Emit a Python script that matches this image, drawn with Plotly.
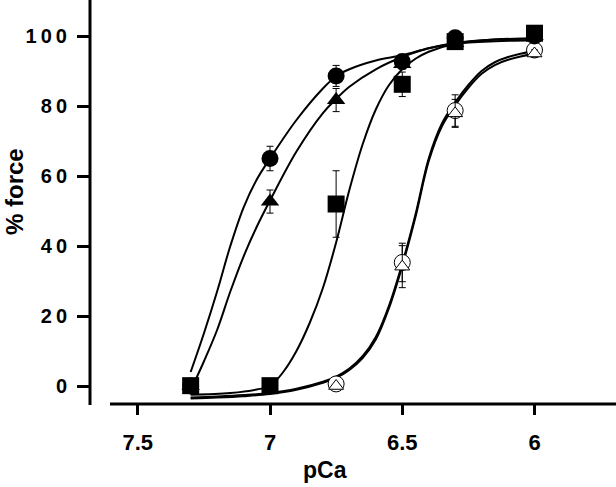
import plotly.graph_objects as go

# ---- data ----
pca_filled = [7.3, 7.0, 6.75, 6.5, 6.3, 6.0]
circle_y = [0, 65, 88.6, 92.7, 99.5, 100]
circle_err = [None, 3.5, 3.0, 1.5, 1.0, None]
triangle_y = [0, 52.7, 81.7, 92, 98, 100]
triangle_err = [None, 3.3, 3.3, 1.5, 1.0, None]
square_y = [0.1, 0.1, 52, 86.2, 98.4, 100.8]
square_err = [None, None, 9.5, 3.5, 1.0, 2.0]

pca_open = [6.75, 6.5, 6.3, 6.0]
ocircle_y = [0.6, 35.3, 78.7, 96]
ocircle_err = [None, 5.5, 4.5, 1.0]
otriangle_y = [0, 34.1, 77.9, 95]
otriangle_err = [None, 6.0, 4.0, 1.0]

# fitted curves
circ_fit_x = [7.3, 7.25, 7.2, 7.15, 7.1, 7.05, 7.0, 6.9, 6.8, 6.75, 6.7, 6.6, 6.5, 6.4, 6.3, 6.15, 6.0]
circ_fit_y = [4, 15, 27, 40, 51, 59, 65, 76, 85, 88.5, 90.5, 93, 94.5, 96.5, 98, 99, 99.3]
tri_fit_x = [7.28, 7.25, 7.2, 7.15, 7.1, 7.05, 7.0, 6.9, 6.8, 6.75, 6.7, 6.6, 6.5, 6.4, 6.3, 6.15, 6.0]
tri_fit_y = [2, 7, 16, 27, 37, 45.5, 53, 67, 78, 82, 85.5, 90.5, 94, 96.5, 97.8, 98.5, 98.8]
sq_fit_x = [7.3, 7.15, 7.05, 7.0, 6.95, 6.9, 6.85, 6.8, 6.75, 6.7, 6.65, 6.6, 6.55, 6.5, 6.45, 6.4, 6.3, 6.15, 6.0]
sq_fit_y = [-2.5, -2, -1, 0, 4, 10, 18, 28, 41, 56, 69, 79, 86, 90.5, 93.5, 95.5, 97.8, 99, 99.3]
oc_fit_x = [7.3, 7.2, 7.1, 7.0, 6.9, 6.8, 6.75, 6.7, 6.65, 6.6, 6.55, 6.5, 6.45, 6.4, 6.35, 6.3, 6.25, 6.2, 6.15, 6.1, 6.0]
oc_fit_y = [-3.3, -3, -2.6, -2, -0.8, 1.2, 2.7, 5, 8.5, 14, 23, 35, 49, 65, 75, 81, 86, 90, 92.5, 94, 95.8]
ot_fit_y = [-3.6, -3.3, -2.9, -2.3, -1.1, 0.9, 2.3, 4.6, 8, 13.3, 22.3, 34.3, 48.3, 64.2, 74.2, 80.2, 85.2, 89.2, 91.7, 93.2, 95.0]

x_tickvals = [7.5, 7.0, 6.5, 6.0]
x_ticktext = ["7.5", "7", "6.5", "6"]
y_tickvals = [0, 20, 40, 60, 80, 100]
y_ticktext = ["0", "2\u20090", "4\u20090", "6\u20090", "8\u20090", "1\u20090\u20090"]

FONT = "Liberation Sans, Arial, Helvetica, sans-serif"

fig = go.Figure()

for fx, fy in [(circ_fit_x, circ_fit_y), (tri_fit_x, tri_fit_y), (sq_fit_x, sq_fit_y),
               (oc_fit_x, oc_fit_y), (oc_fit_x, ot_fit_y)]:
    fig.add_trace(go.Scatter(x=fx, y=fy, mode="lines", line=dict(color="black", width=2, shape="spline"),
                             hoverinfo="skip", showlegend=False))

def pts(x, y, err, symbol, size, fill, lw):
    fig.add_trace(go.Scatter(
        x=x, y=y, mode="markers",
        marker=dict(symbol=symbol, size=size, color=fill, line=dict(color="black", width=lw)),
        error_y=dict(type="data", array=err, symmetric=True, color="black", thickness=1, width=3.5),
        showlegend=False))

pts(pca_open, ocircle_y, ocircle_err, "circle", 16, "white", 1)
pts(pca_open, otriangle_y, otriangle_err, "triangle-up", 13, "white", 1)
pts(pca_filled, triangle_y, triangle_err, "triangle-up", 16, "black", 0)
pts(pca_filled, circle_y, circle_err, "circle", 17, "black", 0)
pts(pca_filled, square_y, square_err, "square", 17, "black", 0)

W, H = 616, 487
L, R, T, B = 90, 0, 0, 83
pw, ph = W - L - R, H - T - B

fig.update_layout(
    width=W, height=H,
    margin=dict(l=L, r=R, t=T, b=B),
    paper_bgcolor="white", plot_bgcolor="white",
    font=dict(family=FONT, color="black"),
    xaxis=dict(range=[7.6805, 5.6919], showgrid=False, zeroline=False, showline=False,
               tickvals=x_tickvals, ticktext=x_ticktext, ticks="outside", ticklen=10, tickwidth=3,
               tickcolor="black", tickfont=dict(family=FONT, size=22, weight="bold"),
               ticklabelstandoff=9),
    yaxis=dict(range=[-5.14, 110.29], showgrid=False, zeroline=False, showline=False,
               tickvals=y_tickvals, ticktext=y_ticktext, ticks="outside", ticklen=12, tickwidth=3,
               tickcolor="black", tickfont=dict(family=FONT, size=20, weight="bold"),
               ticklabelstandoff=6),
    shapes=[
        dict(type="line", xref="paper", yref="paper", x0=0, x1=0, y0=1, y1=-1.0 / ph,
             line=dict(color="black", width=3)),
        dict(type="line", xref="paper", yref="paper", x0=(110 - L) / pw, x1=1, y0=0, y1=0,
             line=dict(color="black", width=3)),
    ],
    annotations=[
        dict(text="<b>pCa</b>", xref="paper", yref="paper", x=(325 - L) / pw, y=(H - B - 470) / ph,
             showarrow=False, font=dict(family=FONT, size=23), xanchor="center", yanchor="middle"),
        dict(text="<b>% force</b>", xref="paper", yref="paper", x=(14 - L) / pw, y=(H - B - 192) / ph,
             showarrow=False, font=dict(family=FONT, size=24), textangle=-90,
             xanchor="center", yanchor="middle"),
    ],
)

fig.write_html("out.html", config={"displayModeBar": False},
               post_script="document.body.style.margin='0';document.body.style.overflow='hidden';")
